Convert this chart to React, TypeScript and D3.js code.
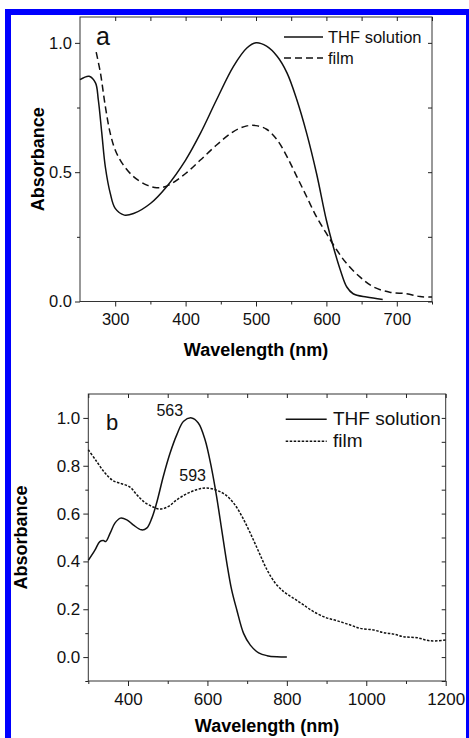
import React, { useEffect, useRef } from "react";
import * as d3 from "d3";

// panel a
const aSolutionNm = [250, 263, 272, 276, 281, 286, 293, 300, 313, 326, 350, 373, 400, 421, 444, 468, 487, 500, 515, 530, 544, 558, 572, 586, 600, 610, 620, 629, 638, 657, 680];
const aSolutionAbs = [0.858, 0.871, 0.845, 0.78, 0.65, 0.52, 0.418, 0.36, 0.334, 0.34, 0.379, 0.444, 0.547, 0.65, 0.78, 0.909, 0.98, 1.0, 0.987, 0.948, 0.884, 0.78, 0.65, 0.495, 0.314, 0.21, 0.12, 0.056, 0.03, 0.017, 0.008];
const aFilmNm = [273, 279, 286, 293, 300, 310, 326, 345, 359, 373, 400, 421, 444, 468, 487, 500, 515, 530, 544, 558, 572, 586, 600, 615, 629, 648, 667, 690, 714, 733, 750];
const aFilmAbs = [0.964, 0.884, 0.754, 0.65, 0.586, 0.534, 0.483, 0.45, 0.44, 0.446, 0.495, 0.547, 0.605, 0.657, 0.679, 0.68, 0.666, 0.625, 0.56, 0.483, 0.405, 0.327, 0.263, 0.198, 0.146, 0.094, 0.056, 0.036, 0.03, 0.019, 0.017];

// panel b
const bSolutionNm = [300, 317, 329, 338, 344, 355, 367, 381, 397, 413, 434, 447, 460, 472, 489, 506, 523, 540, 560, 577, 594, 611, 623, 636, 649, 661, 674, 691, 708, 729, 750, 775, 800];
const bSolutionAbs = [0.404, 0.448, 0.483, 0.487, 0.483, 0.518, 0.56, 0.581, 0.574, 0.553, 0.532, 0.539, 0.581, 0.644, 0.756, 0.853, 0.93, 0.986, 1.0, 0.979, 0.909, 0.784, 0.672, 0.532, 0.392, 0.281, 0.197, 0.099, 0.05, 0.018, 0.006, 0.001, 0.0];
const bFilmNm = [300, 321, 342, 363, 384, 405, 422, 439, 460, 481, 502, 523, 548, 573, 598, 624, 645, 666, 687, 708, 729, 750, 771, 792, 817, 842, 867, 897, 926, 960, 985, 1019, 1044, 1069, 1094, 1128, 1161, 1200];
const bFilmAbs = [0.867, 0.818, 0.77, 0.737, 0.725, 0.711, 0.679, 0.651, 0.63, 0.619, 0.63, 0.658, 0.683, 0.7, 0.707, 0.697, 0.679, 0.644, 0.588, 0.518, 0.441, 0.365, 0.309, 0.274, 0.246, 0.218, 0.19, 0.166, 0.152, 0.134, 0.12, 0.113, 0.102, 0.096, 0.085, 0.081, 0.068, 0.071];

const legendLabels = ["THF solution", "film"];
const peakLabels = ["563", "593"];
const peakNm = [563, 593];
const peakAbs = [1.0, 0.71];

const FONT = "Liberation Sans, Arial, sans-serif";
const zip = (xs: number[], ys: number[]) => xs.map((x, i) => [x, ys[i]] as [number, number]);

function drawPanel(svg: any, opt: any) {
  const { left, right, top, bottom, xDomain, yDomain, xMajor, xMinor, yMajor, yMinor, fontSize } = opt;
  const x = d3.scaleLinear().domain(xDomain).range([left, right]);
  const y = d3.scaleLinear().domain(yDomain).range([bottom, top]);
  const g = svg.append("g");

  // frame
  g.append("rect").attr("x", left).attr("y", top).attr("width", right - left).attr("height", bottom - top)
    .attr("fill", "none").attr("stroke", "#333").attr("stroke-width", 1);

  const styleAxis = (a: any) => {
    a.select(".domain").remove();
    a.selectAll("line").attr("stroke", "#222");
    a.selectAll("text").attr("font-family", FONT).attr("font-size", fontSize).attr("fill", "#111");
  };

  g.append("g").attr("transform", `translate(0,${bottom})`)
    .call(d3.axisBottom(x).tickValues(xMajor).tickSize(5).tickPadding(7).tickFormat(d3.format("d")))
    .call(styleAxis);
  g.append("g").attr("transform", `translate(0,${bottom})`)
    .call(d3.axisBottom(x).tickValues(xMinor).tickSize(3).tickFormat(() => ""))
    .call(styleAxis);
  g.append("g").attr("transform", `translate(0,${top})`)
    .call(d3.axisBottom(x).tickValues(xMajor.concat(xMinor)).tickSize(4).tickFormat(() => ""))
    .call(styleAxis);

  g.append("g").attr("transform", `translate(${left},0)`)
    .call(d3.axisLeft(y).tickValues(yMajor).tickSize(5).tickPadding(3).tickFormat(d3.format(".1f")))
    .call(styleAxis);
  g.append("g").attr("transform", `translate(${left},0)`)
    .call(d3.axisLeft(y).tickValues(yMinor).tickSize(3).tickFormat(() => ""))
    .call(styleAxis);
  g.append("g").attr("transform", `translate(${right},0)`)
    .call(d3.axisRight(y).tickValues(yMajor.concat(yMinor)).tickSize(-4).tickFormat(() => ""))
    .call(styleAxis);

  const line = d3.line<[number, number]>().x(d => x(d[0])).y(d => y(d[1])).curve(d3.curveCatmullRom.alpha(0.5));
  g.append("path").attr("d", line(opt.solution)).attr("fill", "none").attr("stroke", "#111").attr("stroke-width", 1.5);
  g.append("path").attr("d", line(opt.film)).attr("fill", "none").attr("stroke", "#111").attr("stroke-width", 1.5)
    .attr("stroke-dasharray", opt.filmDash);

  // titles
  g.append("text").attr("x", (left + right) / 2).attr("y", opt.xTitleY).attr("text-anchor", "middle")
    .attr("font-family", FONT).attr("font-weight", "bold").attr("font-size", 18)
    .text("Wavelength (nm)");
  g.append("text").attr("transform", `translate(${opt.yTitleX},${(top + bottom) / 2}) rotate(-90)`).attr("text-anchor", "middle")
    .attr("font-family", FONT).attr("font-weight", "bold").attr("font-size", 18)
    .text("Absorbance");

  // legend
  const lg = opt.legend;
  legendLabels.forEach((lab, i) => {
    const ly = lg.y + i * lg.gap;
    g.append("line").attr("x1", lg.x1).attr("x2", lg.x2).attr("y1", ly).attr("y2", ly)
      .attr("stroke", "#111").attr("stroke-width", 1.5).attr("stroke-dasharray", i === 0 ? null : opt.filmDash);
    g.append("text").attr("x", lg.tx).attr("y", ly + 6).attr("font-family", FONT)
      .attr("font-size", lg.fontSize).attr("fill", "#111").text(lab);
  });

  g.append("text").attr("x", opt.tag.x).attr("y", opt.tag.y).attr("font-family", FONT)
    .attr("font-size", opt.tag.size).attr("fill", "#111").text(opt.tag.text);
  return { x, y, g };
}

export default function App() {
  const ref = useRef<SVGSVGElement>(null);

  useEffect(() => {
    const svg = d3.select(ref.current);
    svg.selectAll("*").remove();
    svg.append("rect").attr("width", 469).attr("height", 738).attr("fill", "#fff");
    svg.append("rect").attr("x", 8).attr("y", 12).attr("width", 461).attr("height", 800)
      .attr("fill", "none").attr("stroke", "#0000ff").attr("stroke-width", 6);

    drawPanel(svg, {
      left: 80, right: 432, top: 17, bottom: 301.5,
      xDomain: [250, 750], yDomain: [0, 1.1],
      xMajor: [300, 400, 500, 600, 700], xMinor: [350, 450, 550, 650, 750],
      yMajor: [0, 0.5, 1.0], yMinor: [0.25, 0.75],
      fontSize: 16.5,
      solution: zip(aSolutionNm, aSolutionAbs), film: zip(aFilmNm, aFilmAbs), filmDash: "7,4",
      xTitleY: 356, yTitleX: 44,
      legend: { x1: 284, x2: 323, tx: 328, y: 37, gap: 21, fontSize: 16.5 },
      tag: { x: 96, y: 45, size: 25, text: "a" },
    });

    const b = drawPanel(svg, {
      left: 88.3, right: 445.7, top: 394, bottom: 681,
      xDomain: [300, 1200], yDomain: [-0.1, 1.1],
      xMajor: [400, 600, 800, 1000, 1200], xMinor: [300, 500, 700, 900, 1100],
      yMajor: [0, 0.2, 0.4, 0.6, 0.8, 1.0], yMinor: [-0.1, 0.1, 0.3, 0.5, 0.7, 0.9],
      fontSize: 17,
      solution: zip(bSolutionNm, bSolutionAbs), film: zip(bFilmNm, bFilmAbs), filmDash: "2.5,1.5",
      xTitleY: 732, yTitleX: 27,
      legend: { x1: 285.7, x2: 326.7, tx: 333, y: 419.3, gap: 22, fontSize: 19 },
      tag: { x: 106, y: 430, size: 22, text: "b" },
    });

    // peak annotations
    const dx = [-23, -12];
    const dy = [-2, -6];
    peakLabels.forEach((lab, i) => {
      b.g.append("text").attr("x", b.x(peakNm[i]) + dx[i]).attr("y", b.y(peakAbs[i]) + dy[i])
        .attr("text-anchor", "middle").attr("font-family", FONT)
        .attr("font-size", 16).attr("fill", "#111").text(lab);
    });
  }, []);

  return <svg ref={ref} width={469} height={738} style={{ position: "absolute", left: 0, top: 0 }} />;
}
